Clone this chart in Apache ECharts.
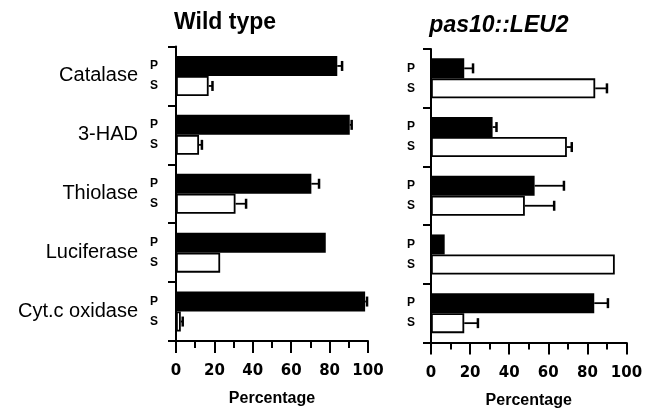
<!DOCTYPE html>
<html>
<head>
<meta charset="utf-8">
<script src="https://cdn.jsdelivr.net/npm/echarts@6/dist/echarts.min.js"></script>
<style>
html, body { margin: 0; padding: 0; background: #fff; }
#chart { width: 658px; height: 409px; }
</style>
</head>
<body>
<div id="chart"></div>
<script>
var proteins = ['Catalase', '3-HAD', 'Thiolase', 'Luciferase', 'Cyt.c oxidase'];
var xTicks = [0, 20, 40, 60, 80, 100];

// wild type: % in pellet (P) and supernatant (S), with error
var wtP = [84, 90.5, 70.5, 78, 98.5];
var wtPErr = [2.5, 1, 4, 0, 1];
var wtS = [17, 12, 31, 23, 2.5];
var wtSErr = [2, 1.5, 5.5, 0, 1];

// pas10::LEU2
var mutP = [17, 31.5, 53, 7, 83.5];
var mutPErr = [4.5, 2, 15, 0, 7];
var mutS = [84, 69.5, 48, 94, 17];
var mutSErr = [6, 2.5, 15, 0, 7];

var myChart = echarts.init(document.getElementById('chart'));

function errorItem(params, api) {
	var v = api.value(0), cat = api.value(1), e = api.value(2), slot = api.value(3);
	if (!e) return;
	var a = api.coord([v, cat]);
	var b = api.coord([v + e, cat]);
	var y = a[1] + slot * 10;
	return {
		type : 'group',
		children : [ {
			type : 'line',
			shape : { x1 : a[0], y1 : y, x2 : b[0], y2 : y },
			style : { stroke : '#000', lineWidth : 1.8 }
		}, {
			type : 'line',
			shape : { x1 : b[0], y1 : y - 5, x2 : b[0], y2 : y + 5 },
			style : { stroke : '#000', lineWidth : 2.5 }
		} ]
	};
}

function errData(vals, errs, slot) {
	return vals.map(function (v, i) { return [v, i, errs[i], slot]; });
}

function psLabel(txt, dx) {
	return {
		show : true,
		position : [dx, '50%'],
		formatter : txt,
		align : 'center',
		verticalAlign : 'middle',
		fontSize : 12,
		fontWeight : 'bold',
		fontFamily : 'Liberation Sans',
		color : '#000'
	};
}

function xAxisFor(i) {
	return {
		gridIndex : i,
		type : 'value',
		min : xTicks[0],
		max : xTicks[xTicks.length - 1],
		interval : xTicks[1] - xTicks[0],
		axisLine : { show : true, lineStyle : { color : '#000', width : 2 } },
		axisTick : { show : true, length : 12, lineStyle : { color : '#000', width : 2 } },
		minorTick : { show : true, splitNumber : 2, length : 7, lineStyle : { color : '#000', width : 2 } },
		splitLine : { show : false },
		axisLabel : { margin : 23, fontSize : 15, fontWeight : 'bold', fontFamily : 'DejaVu Sans', color : '#000' },
		name : 'Percentage',
		nameLocation : 'middle',
		nameGap : 50,
		nameTextStyle : { fontSize : 16, fontWeight : 'bold', fontFamily : 'Liberation Sans', color : '#000' }
	};
}

function yAxisFor(i, showLabels) {
	return {
		gridIndex : i,
		type : 'category',
		data : proteins,
		inverse : true,
		axisLine : { lineStyle : { color : '#000', width : 2 } },
		axisTick : { show : true, length : 8, lineStyle : { color : '#000', width : 2 } },
		axisLabel : { show : showLabels, margin : 38, fontSize : 20, fontFamily : 'Liberation Sans', color : '#000' }
	};
}

option = {
	backgroundColor : '#fff',
	animation : false,
	graphic : [ {
		type : 'text', x : 225, y : 23,
		style : { text : 'Wild type', font : 'bold 23px "Liberation Sans"', fill : '#000', align : 'center', verticalAlign : 'middle' }
	}, {
		type : 'text', x : 499, y : 26,
		style : { text : 'pas10::LEU2', font : 'italic bold 23px "Liberation Sans"', fill : '#000', align : 'center', verticalAlign : 'middle' }
	} ],
	grid : [
		{ left : 176, top : 46.5, width : 192, height : 294.5, outerBoundsMode : 'none' },
		{ left : 431, top : 49, width : 195.5, height : 293.5, outerBoundsMode : 'none' }
	],
	xAxis : [ xAxisFor(0), xAxisFor(1) ],
	yAxis : [ yAxisFor(0, true), yAxisFor(1, false) ],
	series : [ {
		name : 'P', type : 'bar', xAxisIndex : 0, yAxisIndex : 0,
		data : wtP, barWidth : 20, barGap : 0,
		itemStyle : { color : '#000' },
		label : psLabel('P', -22)
	}, {
		name : 'S', type : 'bar', xAxisIndex : 0, yAxisIndex : 0,
		data : wtS, barWidth : 20, barGap : 0,
		itemStyle : { color : '#fff', borderColor : '#000', borderWidth : 1.8 },
		label : psLabel('S', -22)
	}, {
		type : 'custom', xAxisIndex : 0, yAxisIndex : 0, z : 3,
		renderItem : errorItem, encode : { x : 0, y : 1 },
		data : errData(wtP, wtPErr, -1).concat(errData(wtS, wtSErr, 1))
	}, {
		name : 'P', type : 'bar', xAxisIndex : 1, yAxisIndex : 1,
		data : mutP, barWidth : 20, barGap : 0,
		itemStyle : { color : '#000' },
		label : psLabel('P', -20)
	}, {
		name : 'S', type : 'bar', xAxisIndex : 1, yAxisIndex : 1,
		data : mutS, barWidth : 20, barGap : 0,
		itemStyle : { color : '#fff', borderColor : '#000', borderWidth : 1.8 },
		label : psLabel('S', -20)
	}, {
		type : 'custom', xAxisIndex : 1, yAxisIndex : 1, z : 3,
		renderItem : errorItem, encode : { x : 0, y : 1 },
		data : errData(mutP, mutPErr, -1).concat(errData(mutS, mutSErr, 1))
	} ]
};
myChart.setOption(option);
</script>
</body>
</html>
